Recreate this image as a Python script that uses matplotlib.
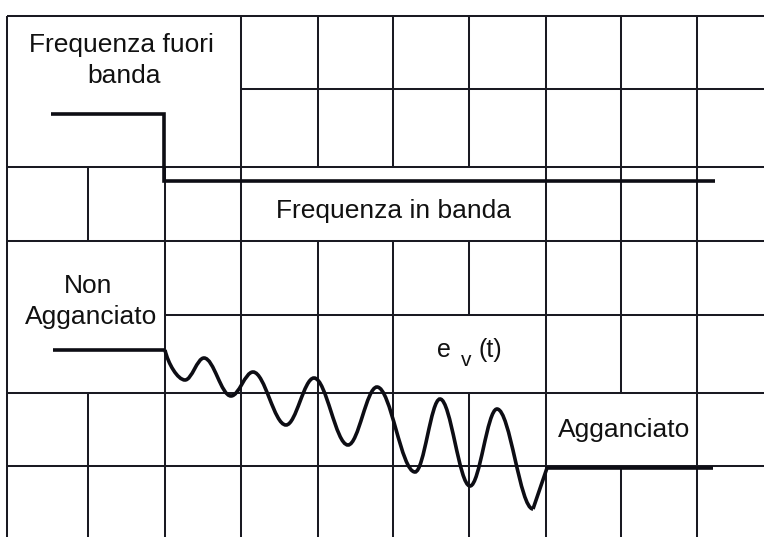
import matplotlib
matplotlib.use("Agg")
import matplotlib.pyplot as plt
from matplotlib.path import Path
from matplotlib.patches import PathPatch

plt.rcParams['font.family'] = ['Liberation Sans', 'DejaVu Sans']

# --- griglia dello schermo (coordinate orizzontali e verticali delle linee) ---
x_lines = [7, 88, 165, 241, 318, 393, 469, 546, 621, 697]
y_lines = [16, 89, 167, 241, 315, 393, 466]
y_bottom = 537
x_right = 764

# righe (indice 0..6) in cui ogni linea verticale e' presente
v_rows = {
    7:   [0, 1, 2, 3, 4, 5, 6],
    88:  [2, 5, 6],
    165: [2, 3, 4, 5, 6],
    241: [0, 1, 2, 3, 4, 5, 6],
    318: [0, 1, 3, 4, 5, 6],
    393: [0, 1, 3, 4, 5, 6],
    469: [0, 1, 3, 5, 6],
    546: [0, 1, 2, 3, 4, 5, 6],
    621: [0, 1, 2, 3, 4, 6],
    697: [0, 1, 2, 3, 4, 5, 6],
}
# estensione orizzontale di ogni linea orizzontale
h_span = {
    16:  (7, x_right),
    89:  (241, x_right),
    167: (7, x_right),
    241: (7, x_right),
    315: (165, x_right),
    393: (7, x_right),
    466: (7, x_right),
}

# --- tracce ---
# frequenza di ingresso: fuori banda -> in banda
freq_t = [51, 164, 164, 715]
freq_v = [114, 114, 181, 181]

# tensione di controllo e_v(t): tratto piatto, oscillazione, aggancio
ev_flat_t = [53, 165]
ev_flat_v = [350, 350]
ev_ext_t = [165, 185, 204, 231, 253, 286, 314, 348, 377, 415, 440, 470, 497, 533]
ev_ext_v = [350, 380, 358, 396, 372, 425, 378, 445, 387, 472, 399, 486, 409, 509]
ev_lock_t = [547, 547, 713]
ev_lock_v = [509, 468, 468]

fig = plt.figure(figsize=(7.64, 5.37), dpi=100)
ax = fig.add_axes([0, 0, 1, 1])
ax.set_xlim(0, x_right)
ax.set_ylim(y_bottom, 0)
ax.axis('off')

grid_kw = dict(color='#1a1a22', lw=1.45, solid_capstyle='butt', zorder=1)
row_edges = y_lines + [y_bottom]
for x, rows in v_rows.items():
    for r in rows:
        ax.plot([x, x], [row_edges[r], row_edges[r + 1]], **grid_kw)
for y, (x0, x1) in h_span.items():
    ax.plot([x0, x1], [y, y], **grid_kw)

ink = '#0d0d14'
trace_kw = dict(color=ink, lw=2.6, solid_capstyle='butt', solid_joinstyle='miter', zorder=3)
ax.plot(freq_t, freq_v, **trace_kw)
ax.plot(ev_flat_t, ev_flat_v, **trace_kw)

# oscillazione: archi di Bezier fra massimi e minimi successivi
k = 0.364
verts = [(ev_ext_t[0], ev_ext_v[0])]
codes = [Path.MOVETO]
for i in range(1, len(ev_ext_t)):
    t0, v0 = ev_ext_t[i - 1], ev_ext_v[i - 1]
    t1, v1 = ev_ext_t[i], ev_ext_v[i]
    dt = t1 - t0
    if i == 1:
        c1 = (t0 + 0.15 * dt, v0 + 0.45 * (v1 - v0))
    else:
        c1 = (t0 + k * dt, v0)
    c2 = (t1 - k * dt, v1)
    verts += [c1, c2, (t1, v1)]
    codes += [Path.CURVE4] * 3
ax.add_patch(PathPatch(Path(verts, codes), fill=False, ec=ink, lw=2.6, zorder=3))
ax.plot([ev_ext_t[-1]] + ev_lock_t[1:], [ev_ext_v[-1]] + ev_lock_v[1:], **trace_kw)

txt = dict(fontsize=19, color='#111111', va='baseline', zorder=4)
ax.text(121, 52, 'Frequenza fuori', ha='center', **txt)
ax.text(124, 83, 'banda', ha='center', **txt)
ax.text(394, 218, 'Frequenza in banda', ha='center', **txt)
ax.text(88, 293, 'Non', ha='center', **txt)
ax.text(91, 324, 'Agganciato', ha='center', **txt)
ax.text(624, 437, 'Agganciato', ha='center', **txt)
ax.text(437, 357, 'e', ha='left', fontsize=18, color='#111111', va='baseline')
ax.text(461, 366, 'v', ha='left', fontsize=15, color='#111111', va='baseline')
ax.text(479, 357, '(t)', ha='left', fontsize=18, color='#111111', va='baseline')

fig.savefig('out.png', dpi=100, facecolor='white')
